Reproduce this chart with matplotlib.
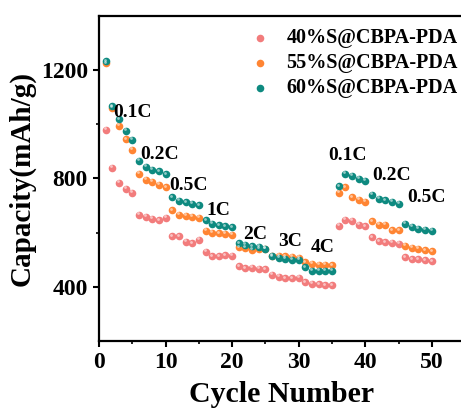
import matplotlib.pyplot as plt
import numpy as np

plt.rcParams['font.family'] = ['Liberation Serif', 'DejaVu Serif']
plt.rcParams['font.weight'] = 'bold'

cycles = np.arange(1, 51)

cap_40 = [979, 840, 785, 763, 746, 666, 658, 651, 645, 654,
          587, 587, 566, 560, 574, 529, 513, 513, 517, 515,
          476, 469, 471, 466, 464, 444, 436, 432, 431, 433,
          417, 412, 410, 406, 406, 626, 648, 643, 629, 623,
          583, 568, 564, 562, 558, 509, 501, 501, 498, 494]
cap_55 = [1225, 1062, 994, 945, 906, 817, 795, 787, 776, 768,
          682, 666, 663, 658, 654, 607, 599, 598, 595, 593,
          546, 544, 537, 540, 540, 515, 514, 512, 510, 508,
          491, 486, 482, 482, 480, 748, 767, 731, 721, 713,
          642, 630, 630, 609, 609, 552, 544, 540, 535, 531]
cap_60 = [1233, 1067, 1018, 975, 942, 865, 842, 832, 826, 816,
          731, 718, 712, 707, 701, 645, 632, 627, 623, 620,
          560, 556, 550, 547, 541, 513, 507, 504, 500, 500,
          472, 458, 458, 458, 458, 771, 817, 810, 799, 791,
          740, 724, 719, 715, 707, 632, 621, 615, 611, 607]

labels = ['40%S@CBPA-PDA', '55%S@CBPA-PDA', '60%S@CBPA-PDA']
colors = ['#F27C7C', '#FF8533', '#0E8A80']

rate_text = ['0.1C', '0.2C', '0.5C', '1C', '2C', '3C', '4C', '0.1C', '0.2C', '0.5C']
rate_x = [5.0, 9.15, 13.4, 18.0, 23.5, 28.65, 33.55, 37.4, 43.9, 49.15]
rate_y = [1043, 890, 773, 682, 595, 568, 544, 885, 811, 731]

fig = plt.figure(figsize=(4.61, 4.12), dpi=100)
ax = fig.add_axes([0.2148, 0.1723, 0.794, 0.789])

for data, c, lab in zip([cap_40, cap_55, cap_60], colors, labels):
    ax.scatter(cycles, data, s=30, color=c, label=lab, zorder=3, linewidths=0)
    # small highlight to mimic the shaded spheres
    ax.scatter(cycles - 0.15, np.array(data) + 6, s=4, color='white',
               alpha=0.55, zorder=4, linewidths=0)

for t, x, y in zip(rate_text, rate_x, rate_y):
    ax.text(x, y, t, ha='center', va='center', fontsize=14, fontweight='bold')

ax.set_xlim(0, 55)
ax.set_ylim(200, 1400)
ax.set_xticks([0, 10, 20, 30, 40, 50])
ax.set_xticks([5, 15, 25, 35, 45], minor=True)
ax.set_yticks([400, 800, 1200])
ax.set_yticks([600, 1000], minor=True)
ax.tick_params(which='major', direction='out', length=4, width=1.5, labelsize=17, pad=4)
ax.tick_params(which='minor', direction='out', length=2.5, width=1.2)
for sp in ax.spines.values():
    sp.set_linewidth(1.6)

ax.set_xlabel('Cycle Number', fontsize=21.5, fontweight='bold', labelpad=6)
ax.set_ylabel('Capacity(mAh/g)', fontsize=21, fontweight='bold', labelpad=4)

ax.legend(loc='upper right', bbox_to_anchor=(1.03, 1.018), frameon=False,
          fontsize=14.5, handletextpad=0.3, labelspacing=0.25, markerscale=1.0)

fig.savefig('out.png', dpi=100)
